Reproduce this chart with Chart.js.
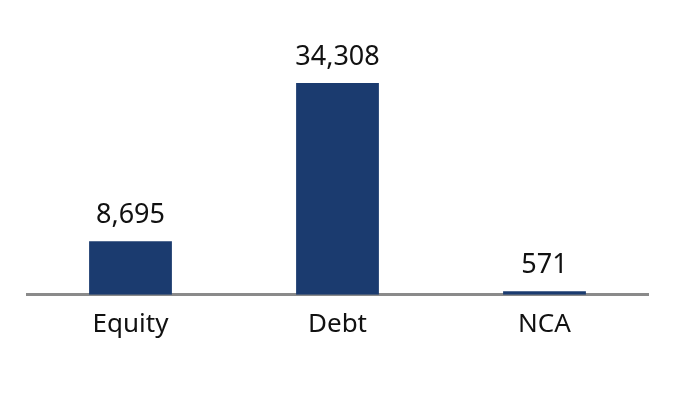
<!DOCTYPE html>
<html>
<head>
<meta charset="utf-8">
<script src="https://cdn.jsdelivr.net/npm/chart.js@4"></script>
<style>
  html, body { margin: 0; padding: 0; background: #fff; }
  #wrap { width: 677px; height: 393px; }
</style>
</head>
<body>
<div id="wrap"><canvas id="chart"></canvas></div>
<script>
// Chart data
const categories = ['Equity', 'Debt', 'NCA'];
const values = [8695, 34308, 571];

// Draws the value above each bar
const valueLabels = {
    id: 'valueLabels',
    afterDatasetsDraw(chart) {
        const ctx = chart.ctx;
        const meta = chart.getDatasetMeta(0);
        ctx.save();
        ctx.font = '27px "Noto Sans", sans-serif';
        ctx.fillStyle = '#111';
        ctx.textAlign = 'center';
        ctx.textBaseline = 'alphabetic';
        meta.data.forEach((bar, i) => {
            ctx.fillText(values[i].toLocaleString('en-US'), bar.x, bar.y - 18);
        });
        ctx.restore();
    }
};

new Chart(document.getElementById('chart').getContext('2d'), {
    type: 'bar',
    data: {
        labels: categories,
        datasets: [{
            data: values,
            backgroundColor: '#1b3b6f',
            barPercentage: 0.4,
            categoryPercentage: 1
        }]
    },
    options: {
        responsive: true,
        maintainAspectRatio: false,
        animation: false,
        layout: { padding: { left: 27, right: 29, top: 48, bottom: 39 } },
        plugins: {
            legend: { display: false },
            tooltip: { enabled: false }
        },
        scales: {
            x: {
                grid: { display: false, drawTicks: false },
                border: { display: true, color: '#8a8a8a', width: 3 },
                ticks: {
                    color: '#111',
                    padding: 14,
                    font: { family: '"Noto Sans", sans-serif', size: 26 }
                }
            },
            y: {
                display: false,
                min: 0,
                max: 40000
            }
        }
    },
    plugins: [valueLabels]
});
</script>
</body>
</html>
